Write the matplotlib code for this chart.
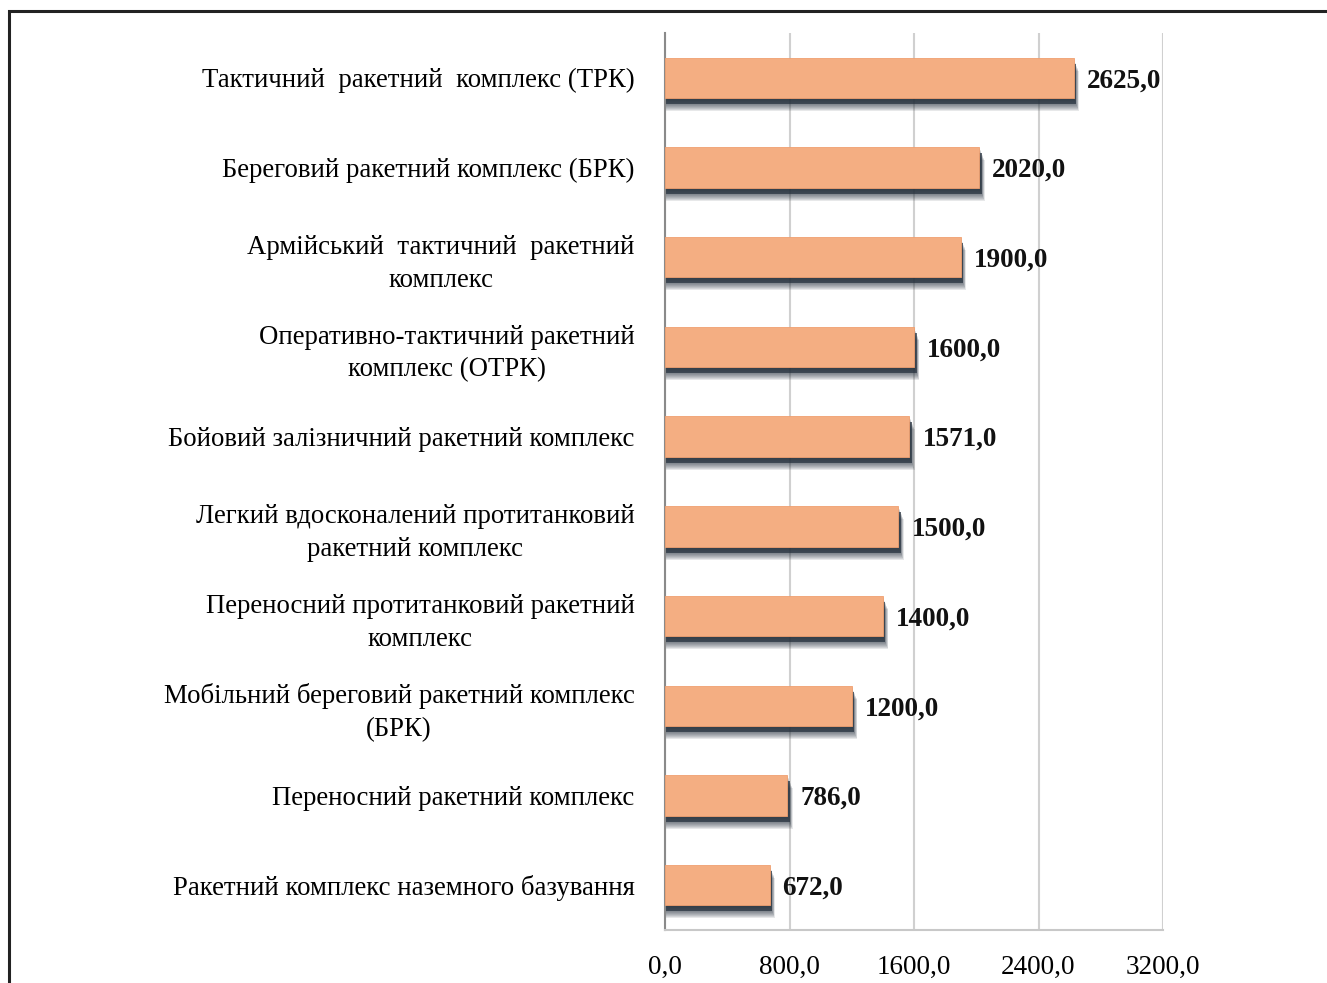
import matplotlib
matplotlib.use("Agg")
import matplotlib.pyplot as plt
from matplotlib.patches import Rectangle
from matplotlib.ticker import FuncFormatter

categories = [
    "Тактичний  ракетний  комплекс (ТРК)",
    "Береговий ракетний комплекс (БРК)",
    "Армійський  тактичний  ракетний\nкомплекс",
    "Оперативно-тактичний ракетний\nкомплекс (ОТРК)",
    "Бойовий залізничний ракетний комплекс",
    "Легкий вдосконалений протитанковий\nракетний комплекс",
    "Переносний протитанковий ракетний\nкомплекс",
    "Мобільний береговий ракетний комплекс\n(БРК)",
    "Переносний ракетний комплекс",
    "Ракетний комплекс наземного базування",
]
values = [2625.0, 2020.0, 1900.0, 1600.0, 1571.0, 1500.0, 1400.0, 1200.0, 786.0, 672.0]
xticks = [0, 800, 1600, 2400, 3200]

plt.rcParams['font.family'] = ['Liberation Serif', 'DejaVu Serif']

W, H = 1327, 983
fig = plt.figure(figsize=(W / 100, H / 100), dpi=100)
ax = fig.add_axes([665 / W, 1 - 930 / H, (1163 - 665) / W, (930 - 33) / H])

n = len(categories)
ypos = list(range(n))
bar_h = 0.45
px_x = 3200 / 498.0   # data units per pixel (x)
px_y = 1 / 89.7       # data units per pixel (y)

# soft shadow: layered offset bars (offsets in pixels)
shadow_specs = [(0.4 * d, d, 0.11) for d in range(13, 1, -1)] + [(2.5, 6, 0.7)]
for dx, dy, a in shadow_specs:
    ax.barh([y + dy * px_y for y in ypos], [v + dx * px_x for v in values],
            height=bar_h, color='#26313d', alpha=a, zorder=2, linewidth=0)

ax.barh(ypos, values, height=bar_h, color='#F4AE82', zorder=3,
        edgecolor='#F0A070', linewidth=0.6)

for y, v in zip(ypos, values):
    ax.text(v + 13 * px_x, y, f"{v:.1f}".replace('.', ','), va='center_baseline',
            ha='left', fontsize=19.5, fontweight='bold', color='#111111', zorder=5)

ax.set_xlim(0, 3200)
ax.set_ylim(n - 0.5, -0.5)
ax.set_xticks(xticks)
ax.xaxis.set_major_formatter(FuncFormatter(lambda x, p: f"{x:.1f}".replace('.', ',')))
ax.set_yticks(ypos)
ax.set_yticklabels(categories, fontsize=19.3, multialignment='center', linespacing=1.4)
ax.tick_params(axis='y', length=0, pad=22)
ax.tick_params(axis='x', length=0, pad=18, labelsize=19.5)
ax.grid(axis='x', color='#d0d0d0', linewidth=1.5, zorder=0)
ax.set_axisbelow(True)
for s in ['top', 'right']:
    ax.spines[s].set_visible(False)
ax.spines['left'].set_color('#8a8a8a')
ax.spines['left'].set_linewidth(1.5)
ax.spines['bottom'].set_color('#c8c8c8')
ax.spines['bottom'].set_linewidth(1.5)

# outer frame
fig.patches.append(Rectangle((9 / W, -0.05), 1.2, 1 - 11 / H + 0.05,
                             transform=fig.transFigure, fill=False,
                             edgecolor='#222222', linewidth=2.2))

fig.savefig("out.png", dpi=100)
